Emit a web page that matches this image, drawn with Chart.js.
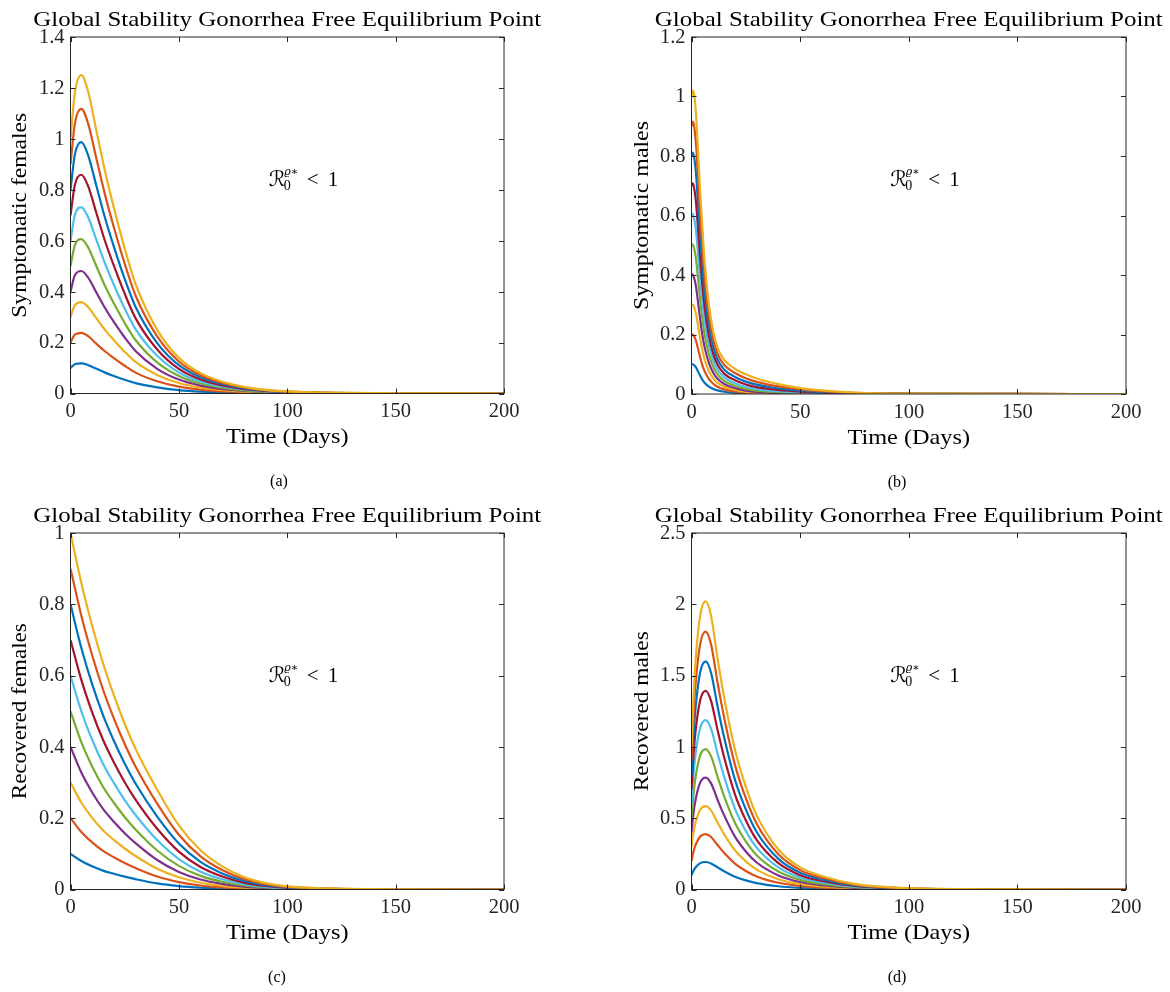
<!DOCTYPE html>
<html>
<head>
<meta charset="utf-8">
<script src="https://cdn.jsdelivr.net/npm/chart.js@4.4.1/dist/chart.umd.min.js"></script>
<style>
html,body{margin:0;padding:0;background:#ffffff;}
#wrap{position:relative;width:1170px;height:992px;overflow:hidden;background:#fff;}
canvas{position:absolute;}
</style>
</head>
<body>
<div id="wrap">
<canvas id="ca" width="585" height="496" style="left:0px;top:0px"></canvas>
<canvas id="cb" width="585" height="496" style="left:585px;top:0px"></canvas>
<canvas id="cc" width="585" height="496" style="left:0px;top:496px"></canvas>
<canvas id="cd" width="585" height="496" style="left:585px;top:496px"></canvas>
</div>
<script>
// ---------------- DATA ----------------
const initialValues = [0.1, 0.2, 0.3, 0.4, 0.5, 0.6, 0.7, 0.8, 0.9, 1.0];
const seriesColors = ['#0072BD','#D95319','#EDB120','#7E2F8E','#77AC30','#4DBEEE','#A2142F','#0072BD','#D95319','#EDB120'];
const xTicks = [0, 50, 100, 150, 200];
const yTicksA = [0, 0.2, 0.4, 0.6, 0.8, 1, 1.2, 1.4];
const yTicksB = [0, 0.2, 0.4, 0.6, 0.8, 1, 1.2];
const yTicksC = [0, 0.2, 0.4, 0.6, 0.8, 1];
const yTicksD = [0, 0.5, 1, 1.5, 2, 2.5];

// (a) Symptomatic females
const timeA = [0, 2, 5, 8, 12, 16, 20, 25, 30, 40, 50, 60, 75, 100, 150, 200];
const symptomaticFemales = [
  [0.1, 0.115, 0.118, 0.112, 0.097, 0.082, 0.069, 0.054, 0.041, 0.024, 0.0135, 0.0077, 0.0034, 0.0008, 0.0001, 0],
  [0.2, 0.231, 0.238, 0.226, 0.195, 0.165, 0.139, 0.109, 0.082, 0.048, 0.027, 0.0155, 0.0068, 0.0016, 0.0002, 0],
  [0.3, 0.347, 0.359, 0.341, 0.295, 0.249, 0.210, 0.164, 0.124, 0.073, 0.041, 0.0233, 0.0103, 0.0024, 0.0003, 0],
  [0.4, 0.464, 0.481, 0.457, 0.396, 0.335, 0.281, 0.220, 0.167, 0.097, 0.0547, 0.0312, 0.0137, 0.0032, 0.0004, 0],
  [0.5, 0.582, 0.606, 0.576, 0.499, 0.421, 0.354, 0.277, 0.210, 0.122, 0.0686, 0.0392, 0.0172, 0.0040, 0.0005, 0],
  [0.6, 0.700, 0.731, 0.695, 0.602, 0.509, 0.427, 0.334, 0.253, 0.148, 0.0827, 0.0472, 0.0208, 0.0048, 0.0006, 0],
  [0.7, 0.819, 0.859, 0.817, 0.707, 0.597, 0.502, 0.392, 0.296, 0.173, 0.0968, 0.0553, 0.0243, 0.0056, 0.0007, 0],
  [0.8, 0.938, 0.987, 0.939, 0.814, 0.687, 0.577, 0.450, 0.341, 0.198, 0.111, 0.0634, 0.0278, 0.0064, 0.0008, 0],
  [0.9, 1.059, 1.118, 1.064, 0.921, 0.778, 0.653, 0.510, 0.385, 0.224, 0.1255, 0.0717, 0.0314, 0.0072, 0.0009, 0],
  [1.0, 1.180, 1.250, 1.190, 1.030, 0.870, 0.730, 0.570, 0.430, 0.250, 0.140, 0.080, 0.035, 0.008, 0.001, 0]
];

// (b) Symptomatic males
const timeB = [0, 0.5, 1, 2, 3, 4, 5, 6, 8, 10, 12, 15, 20, 25, 30, 40, 50, 60, 75, 100, 150, 200];
const symptomaticMales = [
  [0.1, 0.1, 0.098, 0.09, 0.076, 0.061, 0.048, 0.038, 0.025, 0.017, 0.012, 0.0075, 0.004, 0.0018, 0.0008, 0.0002, 0.00005, 0.00001, 0, 0, 0, 0],
  [0.2, 0.2002, 0.1964, 0.1806, 0.1527, 0.1228, 0.097, 0.0768, 0.0506, 0.0345, 0.0244, 0.0155, 0.0085, 0.0042, 0.0021, 0.0008, 0.0003, 0.0002, 0.0001, 0, 0, 0],
  [0.3, 0.3008, 0.2954, 0.2721, 0.2305, 0.1859, 0.1473, 0.1169, 0.0771, 0.0527, 0.0374, 0.0242, 0.0139, 0.0074, 0.0042, 0.0019, 0.001, 0.0005, 0.0002, 0.0001, 0, 0],
  [0.4, 0.4018, 0.3952, 0.3646, 0.3095, 0.2504, 0.1993, 0.1584, 0.1046, 0.0717, 0.0512, 0.0337, 0.0201, 0.0116, 0.0072, 0.0036, 0.002, 0.0011, 0.0004, 0.0001, 0, 0],
  [0.5, 0.5033, 0.4958, 0.4583, 0.39, 0.3167, 0.2533, 0.2017, 0.1333, 0.0917, 0.0658, 0.0442, 0.0275, 0.017, 0.0113, 0.0062, 0.0035, 0.002, 0.0008, 0.0002, 0, 0],
  [0.6, 0.6054, 0.5974, 0.5534, 0.4721, 0.3848, 0.3095, 0.2468, 0.1634, 0.1127, 0.0814, 0.0557, 0.0361, 0.0237, 0.0166, 0.0095, 0.0055, 0.0032, 0.0013, 0.0003, 0, 0],
  [0.7, 0.708, 0.7, 0.65, 0.556, 0.455, 0.368, 0.294, 0.195, 0.135, 0.098, 0.0685, 0.046, 0.0319, 0.0232, 0.0138, 0.0082, 0.0048, 0.002, 0.0005, 0.0001, 0],
  [0.8, 0.8113, 0.8038, 0.7483, 0.6419, 0.5276, 0.4293, 0.3436, 0.2283, 0.1586, 0.1158, 0.0826, 0.0574, 0.0415, 0.0313, 0.0191, 0.0114, 0.0068, 0.0028, 0.0007, 0.0001, 0],
  [0.9, 0.9153, 0.9087, 0.8483, 0.7298, 0.6025, 0.4931, 0.3955, 0.2633, 0.1836, 0.1347, 0.0981, 0.0704, 0.0529, 0.0409, 0.0255, 0.0153, 0.0092, 0.0038, 0.0009, 0.0001, 0],
  [1.0, 1.02, 1.015, 0.95, 0.82, 0.68, 0.56, 0.45, 0.30, 0.21, 0.155, 0.115, 0.085, 0.066, 0.052, 0.033, 0.02, 0.012, 0.005, 0.0012, 0.0001, 0]
];

// (c) Recovered females
const timeC = [0, 5, 10, 15, 20, 25, 30, 40, 50, 60, 70, 80, 90, 100, 120, 150, 200];
const recoveredFemales = [
  [0.1, 0.08, 0.065, 0.053, 0.044, 0.036, 0.029, 0.017, 0.0095, 0.005, 0.0026, 0.0013, 0.0006, 0.0003, 0.0001, 0, 0],
  [0.2, 0.1613, 0.132, 0.1083, 0.0903, 0.0743, 0.0603, 0.0364, 0.0209, 0.0113, 0.0061, 0.0031, 0.0015, 0.0007, 0.0002, 0, 0],
  [0.3, 0.244, 0.201, 0.166, 0.139, 0.115, 0.094, 0.0583, 0.0342, 0.019, 0.0104, 0.0054, 0.0026, 0.0013, 0.0004, 0.0001, 0],
  [0.4, 0.328, 0.272, 0.226, 0.19, 0.158, 0.13, 0.0827, 0.0493, 0.028, 0.0156, 0.0081, 0.004, 0.002, 0.0006, 0.0001, 0],
  [0.5, 0.4133, 0.345, 0.2883, 0.2433, 0.2033, 0.1683, 0.1094, 0.0664, 0.0383, 0.0217, 0.0114, 0.0057, 0.0028, 0.0009, 0.0001, 0],
  [0.6, 0.5, 0.42, 0.353, 0.299, 0.251, 0.209, 0.1387, 0.0853, 0.05, 0.0286, 0.0151, 0.0076, 0.0038, 0.0012, 0.0002, 0],
  [0.7, 0.588, 0.497, 0.42, 0.357, 0.301, 0.252, 0.1703, 0.1062, 0.063, 0.0364, 0.0194, 0.0098, 0.0049, 0.0015, 0.0003, 0],
  [0.8, 0.6773, 0.576, 0.4893, 0.4173, 0.3533, 0.2973, 0.2044, 0.1289, 0.0773, 0.0451, 0.0241, 0.0123, 0.0061, 0.002, 0.0003, 0],
  [0.9, 0.768, 0.657, 0.561, 0.48, 0.408, 0.345, 0.241, 0.1535, 0.093, 0.0546, 0.0293, 0.015, 0.0075, 0.0024, 0.0004, 0],
  [1.0, 0.86, 0.74, 0.635, 0.545, 0.465, 0.395, 0.28, 0.18, 0.11, 0.065, 0.035, 0.018, 0.009, 0.003, 0.0005, 0]
];

// (d) Recovered males
const timeD = [0, 1, 2, 4, 6.5, 9, 12, 15, 20, 25, 30, 40, 50, 60, 75, 100, 150, 200];
const recoveredMales = [
  [0.1, 0.135, 0.158, 0.185, 0.193, 0.183, 0.155, 0.128, 0.09, 0.064, 0.045, 0.023, 0.012, 0.0065, 0.0025, 0.0005, 0.0001, 0],
  [0.2, 0.2707, 0.3171, 0.3716, 0.388, 0.368, 0.3116, 0.2576, 0.1818, 0.1298, 0.0916, 0.0471, 0.0248, 0.0137, 0.0053, 0.0011, 0.0001, 0],
  [0.3, 0.407, 0.4773, 0.5597, 0.585, 0.555, 0.4697, 0.3887, 0.2753, 0.1973, 0.1397, 0.0723, 0.0383, 0.0215, 0.0085, 0.0018, 0.0002, 0],
  [0.4, 0.544, 0.6387, 0.7493, 0.784, 0.744, 0.6293, 0.5213, 0.3707, 0.2667, 0.1893, 0.0987, 0.0527, 0.03, 0.012, 0.0027, 0.0003, 0],
  [0.5, 0.6817, 0.8011, 0.9406, 0.985, 0.935, 0.7906, 0.6556, 0.4678, 0.3378, 0.2406, 0.1261, 0.0678, 0.0392, 0.0158, 0.0036, 0.0004, 0],
  [0.6, 0.82, 0.9647, 1.1333, 1.188, 1.128, 0.9533, 0.7913, 0.5667, 0.4107, 0.2933, 0.1547, 0.0837, 0.049, 0.02, 0.0047, 0.0005, 0],
  [0.7, 0.959, 1.1293, 1.3277, 1.393, 1.323, 1.1177, 0.9287, 0.6673, 0.4853, 0.3477, 0.1843, 0.1003, 0.0595, 0.0245, 0.0058, 0.0006, 0],
  [0.8, 1.0987, 1.2951, 1.5235, 1.6, 1.52, 1.2835, 1.0675, 0.7698, 0.5618, 0.4035, 0.2151, 0.1178, 0.0707, 0.0293, 0.0071, 0.0007, 0],
  [0.9, 1.239, 1.462, 1.721, 1.809, 1.719, 1.451, 1.208, 0.874, 0.64, 0.461, 0.247, 0.136, 0.0825, 0.0345, 0.0085, 0.0008, 0],
  [1.0, 1.38, 1.63, 1.92, 2.02, 1.92, 1.62, 1.35, 0.98, 0.72, 0.52, 0.28, 0.155, 0.095, 0.04, 0.01, 0.001, 0]
];

const chartTitle = 'Global Stability Gonorrhea Free Equilibrium Point';
const xAxisTitle = 'Time (Days)';

// ---------------- RENDERING ----------------
const SERIF = '"Liberation Serif", "Times New Roman", serif';
const MATHF = '"DejaVu Serif", "DejaVu Sans", serif';
const AXIS_COLOR = '#262626';

function drawText(ctx, s, x, y, font, align, targetW, baseline) {
  ctx.save();
  ctx.font = font;
  ctx.fillStyle = '#000';
  ctx.textBaseline = baseline || 'alphabetic';
  ctx.textAlign = align || 'center';
  ctx.translate(x, y);
  if (targetW) {
    const w = ctx.measureText(s).width;
    ctx.scale(targetW / w, 1);
  }
  ctx.fillText(s, 0, 0);
  ctx.restore();
}

function makePanel(p) {
  const framePlugin = {
    id: 'frame_' + p.id,
    afterDatasetsDraw(chart) {
      const {ctx, chartArea: a, scales} = chart;
      const xs = scales.x, ys = scales.y;
      ctx.save();
      ctx.strokeStyle = AXIS_COLOR;
      ctx.lineWidth = 1;
      ctx.strokeRect(a.left, a.top, a.right - a.left, a.bottom - a.top);
      ctx.beginPath();
      const tl = 5;
      xTicks.forEach(v => {
        const px = Math.round(xs.getPixelForValue(v)) + 0.5;
        ctx.moveTo(px, a.bottom); ctx.lineTo(px, a.bottom - tl);
        ctx.moveTo(px, a.top); ctx.lineTo(px, a.top + tl);
      });
      p.yTicks.forEach(v => {
        const py = Math.round(ys.getPixelForValue(v)) + 0.5;
        ctx.moveTo(a.left, py); ctx.lineTo(a.left + tl, py);
        ctx.moveTo(a.right, py); ctx.lineTo(a.right - tl, py);
      });
      ctx.stroke();
      ctx.restore();
    },
    afterDraw(chart) {
      const {ctx, chartArea: a, scales} = chart;
      const xs = scales.x, ys = scales.y;
      const cx = (a.left + a.right) / 2;
      const cy = (a.top + a.bottom) / 2;
      // tick labels
      ctx.save();
      ctx.fillStyle = AXIS_COLOR;
      ctx.font = '20.5px ' + SERIF;
      ctx.textBaseline = 'middle';
      ctx.textAlign = 'center';
      xTicks.forEach(v => ctx.fillText(String(v), xs.getPixelForValue(v), a.bottom + 18.5));
      ctx.textAlign = 'right';
      p.yTicks.forEach(v => ctx.fillText(String(v), a.left - 6, ys.getPixelForValue(v) + 0.5));
      ctx.restore();
      // title
      drawText(ctx, chartTitle, cx, a.top - 11, '22px ' + SERIF, 'center', 508);
      // x title
      drawText(ctx, xAxisTitle, cx, a.bottom + 49.5, '22px ' + SERIF, 'center', 122.6);
      // y title
      ctx.save();
      ctx.translate(p.yTitleX, cy);
      ctx.rotate(-Math.PI / 2);
      drawText(ctx, p.yTitle, 0, 0, '22px ' + SERIF, 'center', p.yTitleW, 'middle');
      ctx.restore();
      // sub caption
      drawText(ctx, p.sub, p.subX, a.bottom + 88.5, '16px ' + SERIF, 'center', 0, 'middle');
      // annotation R_0^{rho*} < 1
      const ax = xs.getPixelForValue(p.annX);
      const ay = ys.getPixelForValue(p.annY) + 6;
      drawText(ctx, '\u211B', ax, ay, '21px ' + MATHF, 'left');
      drawText(ctx, '0', ax + 15, ay + 4, '14px ' + SERIF, 'left');
      drawText(ctx, '\u03F1\u2217', ax + 15.5, ay - 11, 'italic 11px ' + MATHF, 'left');
      drawText(ctx, '<', ax + 38, ay, '21px ' + SERIF, 'left');
      drawText(ctx, '1', ax + 59, ay, '21px ' + SERIF, 'left');
    }
  };

  const datasets = p.rows.map((r, i) => ({
    label: 'Initial ' + initialValues[i],
    data: r.map((v, k) => ({x: p.times[k], y: v})),
    borderColor: seriesColors[i],
    backgroundColor: seriesColors[i],
    borderWidth: 2.2,
    pointRadius: 0,
    fill: false,
    cubicInterpolationMode: 'monotone',
    order: p.rows.length - 1 - i
  }));

  return new Chart(document.getElementById(p.id), {
    type: 'line',
    data: {datasets},
    options: {
      responsive: false,
      animation: false,
      devicePixelRatio: 1,
      layout: {autoPadding: false, padding: {left: 0, top: p.top, right: p.right, bottom: 0}},
      plugins: {legend: {display: false}, tooltip: {enabled: false}, title: {display: false}},
      scales: {
        x: {
          type: 'linear', min: 0, max: 200,
          ticks: {display: false}, grid: {display: false}, border: {display: false},
          afterBuildTicks: s => { s.ticks = xTicks.map(v => ({value: v})); },
          afterFit: s => { s.height = p.xh; }
        },
        y: {
          type: 'linear', min: 0, max: p.yMax,
          ticks: {display: false}, grid: {display: false}, border: {display: false},
          afterBuildTicks: s => { s.ticks = p.yTicks.map(v => ({value: v})); },
          afterFit: s => { s.width = p.yw; }
        }
      }
    },
    plugins: [framePlugin]
  });
}

const panels = [
  {id: 'ca', times: timeA, rows: symptomaticFemales, yMax: 1.4, yTicks: yTicksA, yTitle: 'Symptomatic females', yTitleW: 205, yTitleX: 20, sub: '(a)', subX: 279, annX: 91.5, annY: 0.84, top: 37, right: 81, yw: 70.5, xh: 102.5},
  {id: 'cb', times: timeB, rows: symptomaticMales, yMax: 1.2, yTicks: yTicksB, yTitle: 'Symptomatic males', yTitleW: 189, yTitleX: 57, sub: '(b)', subX: 312, annX: 91.5, annY: 0.72, top: 37, right: 44, yw: 106.5, xh: 102},
  {id: 'cc', times: timeC, rows: recoveredFemales, yMax: 1, yTicks: yTicksC, yTitle: 'Recovered females', yTitleW: 176, yTitleX: 20, sub: '(c)', subX: 277, annX: 91.5, annY: 0.6, top: 37, right: 81, yw: 70.5, xh: 102.5},
  {id: 'cd', times: timeD, rows: recoveredMales, yMax: 2.5, yTicks: yTicksD, yTitle: 'Recovered males', yTitleW: 160, yTitleX: 57, sub: '(d)', subX: 312, annX: 91.5, annY: 1.5, top: 37, right: 44, yw: 106.5, xh: 102.5}
];
panels.forEach(makePanel);
</script>
</body>
</html>
